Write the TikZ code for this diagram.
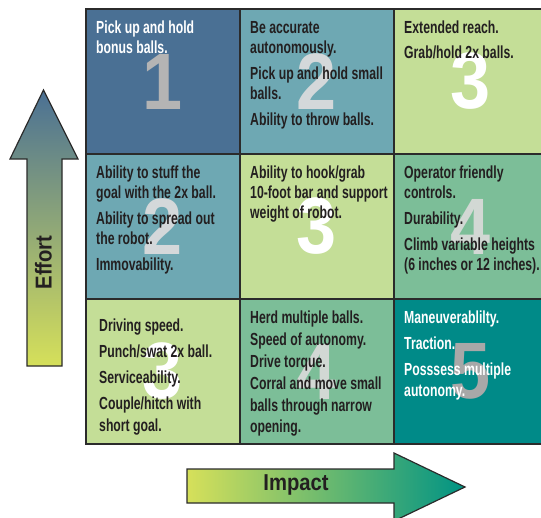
\documentclass[tikz,border=0pt]{standalone}
\usepackage{fontspec}
\setmainfont{Liberation Sans}
\newfontfamily\cellfont{Liberation Sans Bold}[FakeStretch=0.70]
\newfontfamily\numfont{Liberation Sans Bold}[FakeStretch=0.9]
\newfontfamily\axisfont{Liberation Sans Bold}[FakeStretch=0.88]
\definecolor{cA}{HTML}{4A7094}
\definecolor{cB}{HTML}{6EA8B3}
\definecolor{cC}{HTML}{C4DE97}
\definecolor{cD}{HTML}{7CBE98}
\definecolor{cE}{HTML}{008A88}
\definecolor{yel}{HTML}{D6E05A}
\definecolor{tealend}{HTML}{009384}
\definecolor{ink}{HTML}{231F20}
\definecolor{bordc}{HTML}{2B2B2B}
\definecolor{nA}{HTML}{B4B4B4}
\definecolor{nB}{HTML}{D4D8DA}
\definecolor{nD}{HTML}{D2D8D4}
\definecolor{nE}{HTML}{A8A8A8}
\tikzset{
  cellbox/.style={draw=bordc, line width=1.6pt},
  bignum/.style={anchor=center, inner sep=0, font=\numfont\fontsize{80}{80}\selectfont},
  celltext/.style={anchor=north west, inner sep=0, align=left, text=ink,
    font=\cellfont\fontsize{17.5}{20}\selectfont},
  axisarrow/.style={draw=bordc, line width=1.2pt},
}
\begin{document}
\begin{tikzpicture}[x=1pt,y=-1pt]
\useasboundingbox (0,0) rectangle (541,517);
\clip (0,0) rectangle (541,517);
% cells
\fill[cA] (86,9) rectangle (240,154);
\fill[cB] (240,9) rectangle (394,154);
\fill[cC] (394,9) rectangle (548,154);
\fill[cB] (86,154) rectangle (240,299);
\fill[cC] (240,154) rectangle (394,299);
\fill[cD] (394,154) rectangle (548,299);
\fill[cC] (86,299) rectangle (240,444);
\fill[cD] (240,299) rectangle (394,444);
\fill[cE] (394,299) rectangle (548,444);
% numbers
\node[bignum, text=nA] (n11) at (163,81.5) {1};
\node[bignum, text=nB] (n12) at (317,81.5) {2};
\node[bignum, text=white] (n13) at (471,81.5) {3};
\node[bignum, text=nB] (n21) at (163,226.5) {2};
\node[bignum, text=white] (n22) at (317,226.5) {3};
\node[bignum, text=nD] (n23) at (471,226.5) {4};
\node[bignum, text=white] (n31) at (163,371.5) {3};
\node[bignum, text=nD] (n32) at (317,371.5) {4};
\node[bignum, text=nE] (n33) at (471,371.5) {5};
% grid lines
\draw[cellbox] (86,9) rectangle (560,444);
\draw[cellbox] (240,9) -- (240,444);
\draw[cellbox] (394,9) -- (394,444);
\draw[cellbox] (86,154) -- (560,154);
\draw[cellbox] (86,299) -- (560,299);
% texts
\node[celltext, text=white] (t11) at (96,21) {Pick up and hold\\bonus balls.};
\node[celltext] (t12) at (250,21) {Be accurate\\autonomously.\\[6pt]Pick up and hold small\\balls.\\[6pt]Ability to throw balls.};
\node[celltext] (t13) at (404,21) {Extended reach.\\[5pt]Grab/hold 2x balls.};
\node[celltext] (t21) at (96,166) {Ability to stuff the\\goal with the 2x ball.\\[6pt]Ability to spread out\\the robot.\\[6pt]Immovability.};
\node[celltext] (t22) at (250,166) {Ability to hook/grab\\10-foot bar and support\\weight of robot.};
\node[celltext] (t23) at (404,166) {Operator friendly\\controls.\\[6pt]Durability.\\[6pt]Climb variable heights\\(6 inches or 12 inches).};
\node[celltext, font=\cellfont\fontsize{17.5}{22}\selectfont] (t31) at (99,319) {Driving speed.\\[4pt]Punch/swat 2x ball.\\[4pt]Serviceability.\\[4pt]Couple/hitch with\\short goal.};
\node[celltext, font=\cellfont\fontsize{17.5}{21.8}\selectfont] (t32) at (250,311) {Herd multiple balls.\\Speed of autonomy.\\Drive torque.\\Corral and move small\\balls through narrow\\opening.};
\node[celltext, text=white, font=\cellfont\fontsize{17.5}{21}\selectfont] (t33) at (404,311) {Maneuverablilty.\\[5pt]Traction.\\[5pt]Posssess multiple\\autonomy.};
% effort arrow
\shadedraw[axisarrow, top color=cA, bottom color=yel]
  (27,366) -- (27,159) -- (10,159) -- (43.5,90) -- (78,159) -- (62,159) -- (62,366) -- cycle;
\node[rotate=90, inner sep=0, text=ink, font=\axisfont\fontsize{23}{23}\selectfont] (effort) at (43.5,262.5) {Effort};
% impact arrow
\shadedraw[axisarrow, left color=yel, right color=tealend]
  (187,469) -- (394,469) -- (394,453) -- (465,487) -- (394,521) -- (394,503) -- (187,503) -- cycle;
\node[inner sep=0, text=ink, font=\axisfont\fontsize{23}{23}\selectfont] (impact) at (296,485) {Impact};
\end{tikzpicture}
\end{document}
